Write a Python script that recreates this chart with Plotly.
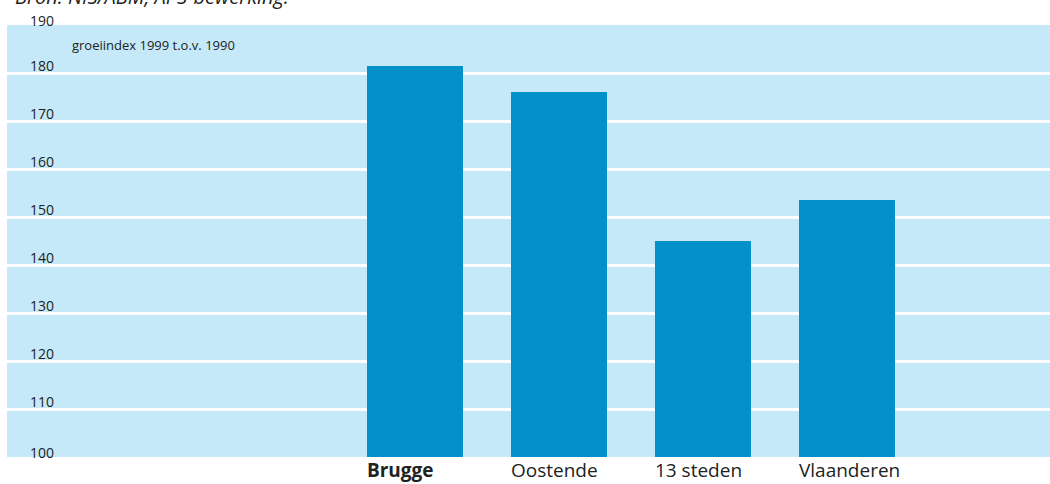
import plotly.graph_objects as go

categories = ["Brugge", "Oostende", "13 steden", "Vlaanderen"]
tick_text = ["<b>Brugge</b>", "Oostende", "13 steden", "Vlaanderen"]
values = [181.4, 176.1, 144.9, 153.6]
y_ticks = [100, 110, 120, 130, 140, 150, 160, 170, 180, 190]

fig = go.Figure()
fig.add_trace(go.Bar(
    x=categories, y=values, width=0.667,
    marker=dict(color="#0291C9", line=dict(width=0)),
    hoverinfo="x+y",
))

edge_labels = [
    dict(text=str(v), xref="paper", yref="y",
         x=0, y=v, xanchor="left", yanchor="bottom", xshift=21, yshift=-7,
         showarrow=False, font=dict(size=14, color="#222222"))
    for v in (y_ticks[0], y_ticks[-1])
]

fig.update_layout(
    width=1050, height=484,
    margin=dict(l=7, r=0, t=25, b=26.5),
    paper_bgcolor="white",
    plot_bgcolor="#C5E9F8",
    showlegend=False,
    bargap=0,
    font=dict(family="Open Sans", color="#222222"),
    xaxis=dict(
        type="category",
        range=[-2.833, 4.41],
        tickvals=categories,
        ticktext=tick_text,
        ticklabelposition="outside right",
        ticklabelshift=-48,
        ticklabelstandoff=0,
        tickfont=dict(size=19, color="#222222"),
        showgrid=False, showline=False, ticks="", zeroline=False,
        automargin=False, fixedrange=True,
    ),
    yaxis=dict(
        range=[100, 190],
        tickvals=y_ticks[1:-1],
        ticklabelposition="inside top",
        ticklabelstandoff=20,
        ticklabelshift=3,
        tickfont=dict(size=14, color="#222222"),
        showgrid=True, gridcolor="white", gridwidth=3,
        showline=False, ticks="", zeroline=False,
        automargin=False, fixedrange=True,
    ),
    annotations=edge_labels + [
        dict(text="groeiindex 1999 t.o.v. 1990", xref="paper", yref="paper",
             x=0, y=1, xanchor="left", yanchor="top", xshift=63, yshift=-9,
             showarrow=False, font=dict(size=13, color="#222222")),
        dict(text="<i>Bron: NIS/ABM, APS-bewerking.</i>", xref="paper", yref="paper",
             x=0, y=1, xanchor="left", yanchor="middle", xshift=6, yshift=29,
             showarrow=False, font=dict(size=20, color="#222222")),
    ],
)

fig.write_html("out.html", config={"displayModeBar": False},
               post_script="document.body.style.margin='0';")
